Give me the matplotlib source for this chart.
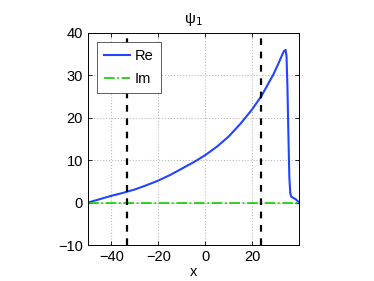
import matplotlib
matplotlib.use("Agg")
import matplotlib.pyplot as plt

plt.rcParams['font.family'] = ['Liberation Sans', 'DejaVu Sans']

# values
x_vals = [-50, -45, -40, -35, -30, -25, -20, -15, -10, -5, 0, 5, 10, 15, 20,
          24, 27, 29, 31, 32.5, 33.5, 34.2, 34.6, 35.0, 35.4, 35.8, 36.2,
          36.6, 37.5, 38.5, 40]
re_vals = [0, 0.8, 1.6, 2.3, 3.1, 4.1, 5.2, 6.5, 8.0, 9.5, 11.2, 13.2, 15.6, 18.6, 22.0,
           25.2, 28.2, 30.2, 32.6, 34.5, 35.7, 36.0, 34.5, 27.0, 16.0, 6.0, 2.2,
           1.4, 1.1, 0.8, 0]
im_vals = [0] * len(x_vals)
vlines = [-33.3, 23.8]

fig = plt.figure(figsize=(3.74, 2.81), dpi=100)
ax = fig.add_axes([0.235, 0.128, 0.565, 0.755])

ax.plot(x_vals, re_vals, color='#2244ff', lw=1.5, label='Re')
ax.plot(x_vals, im_vals, color='#11cc00', lw=1.2, ls='-.', label='Im')
for v in vlines:
    ax.axvline(v, color='black', lw=1.6, ls=(0, (3, 3)))

ax.set_xlim(-50, 40)
ax.set_ylim(-10, 40)
ax.set_xticks([-40, -20, 0, 20])
ax.set_xticklabels(['\u221240', '\u221220', '0', '20'])
ax.set_yticks([-10, 0, 10, 20, 30, 40])
ax.set_yticklabels(['\u221210', '0', '10', '20', '30', '40'])
ax.tick_params(direction='in', top=True, right=True, labelsize=10.5, length=3, width=0.6)
ax.grid(True, ls=':', color='#bbbbbb', lw=0.8)
for s in ax.spines.values():
    s.set_linewidth(0.7)
ax.set_xlabel('x', fontsize=10.5, labelpad=1)
ax.set_title('\u03c8$_1$', fontsize=11, pad=7)

leg = ax.legend(loc='upper left', fontsize=10.5, fancybox=False, edgecolor='#444444',
                handlelength=1.8, handletextpad=0.3, borderaxespad=0.6,
                borderpad=0.5, labelspacing=0.6, framealpha=1)
leg.get_frame().set_linewidth(0.6)

fig.savefig('out.png', dpi=100)
